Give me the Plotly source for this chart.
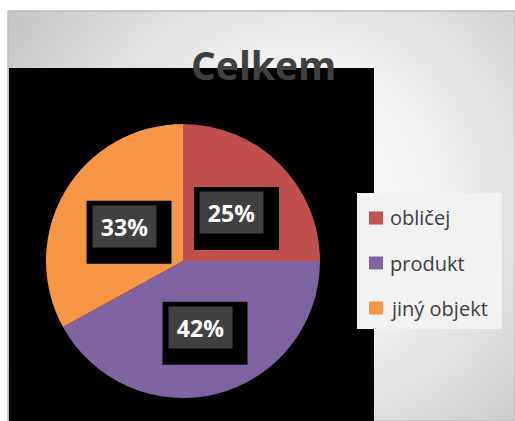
import base64
import math
import plotly.graph_objects as go

# ---- data ----
labels = ["obličej", "produkt", "jiný objekt"]
values = [25, 42, 33]
colors = ["#C0504D", "#8064A2", "#F79646"]
title_text = "Celkem"

W, H = 515, 421

def px_x(x):
    return x / W

def px_y(y):
    return 1 - y / H

# pie geometry (pixels)
cx, cy, R = 183, 261, 137

fig = go.Figure(go.Pie(
    labels=labels,
    values=values,
    marker=dict(colors=colors, line=dict(width=0)),
    sort=False,
    direction="clockwise",
    rotation=0,
    textinfo="none",
    hoverinfo="label+percent",
    showlegend=False,
    domain=dict(x=[px_x(cx - R), px_x(cx + R)], y=[px_y(cy + R), px_y(cy - R)]),
))

# background gradient as an SVG image
svg = f'''<svg xmlns="http://www.w3.org/2000/svg" width="{W}" height="{H}" viewBox="0 0 {W} {H}">
<defs><radialGradient id="g" gradientUnits="userSpaceOnUse" cx="300" cy="200" r="350">
<stop offset="0" stop-color="#ffffff"/><stop offset="0.4" stop-color="#f2f2f2"/><stop offset="1" stop-color="#c4c4c4"/>
</radialGradient></defs>
<rect x="8" y="11" width="{W-8}" height="{H-11}" fill="url(#g)" stroke="#bdbdbd" stroke-width="1.5"/>
</svg>'''
src = "data:image/svg+xml;base64," + base64.b64encode(svg.encode()).decode()

shapes = []
annotations = []

# black plot area
shapes.append(dict(type="rect", xref="paper", yref="paper", layer="below",
                   x0=px_x(9), x1=px_x(374), y0=px_y(421), y1=px_y(68),
                   fillcolor="black", line=dict(width=0)))

# data labels
total = sum(values)
cum = 0
bw, bh = 63, 41
for v in values:
    mid = (cum + v / 2) / total * 2 * math.pi
    cum += v
    lx = cx + 0.5 * R * math.sin(mid)
    ly = cy - 0.5 * R * math.cos(mid)
    shapes.append(dict(type="rect", xref="paper", yref="paper",
                       x0=px_x(lx - bw / 2 - 6), x1=px_x(lx + bw / 2 + 16),
                       y0=px_y(ly + bh / 2 + 17), y1=px_y(ly - bh / 2 - 5),
                       fillcolor="black", line=dict(width=0)))
    annotations.append(dict(
        x=px_x(lx), y=px_y(ly), xref="paper", yref="paper",
        xanchor="center", yanchor="middle", showarrow=False,
        text=f"<b>{round(v / total * 100)}%</b>",
        font=dict(family="Open Sans", size=23, color="white"),
        bgcolor="#404040", width=bw, height=bh, borderpad=0,
    ))

# legend (manual)
shapes.append(dict(type="rect", xref="paper", yref="paper",
                   x0=px_x(357), x1=px_x(502), y0=px_y(329), y1=px_y(193),
                   fillcolor="#f2f2f2", line=dict(width=0)))
for i, (lab, col) in enumerate(zip(labels, colors)):
    ry = 218 + 45 * i
    shapes.append(dict(type="rect", xref="paper", yref="paper",
                       x0=px_x(369), x1=px_x(383), y0=px_y(ry + 6.5), y1=px_y(ry - 6.5),
                       fillcolor=col, line=dict(width=0)))
    annotations.append(dict(
        x=px_x(388), y=px_y(ry), xref="paper", yref="paper",
        xanchor="left", yanchor="middle", showarrow=False, text=lab,
        font=dict(family="Open Sans", size=20, color="#404040"),
    ))

# title
annotations.append(dict(
    x=px_x(263), y=px_y(64), xref="paper", yref="paper",
    xanchor="center", yanchor="middle", showarrow=False,
    text=f"<b>{title_text}</b>",
    font=dict(family="Open Sans", size=39, color="#404040"),
))

fig.update_layout(
    width=W, height=H,
    margin=dict(l=0, r=0, t=0, b=0),
    paper_bgcolor="white",
    plot_bgcolor="white",
    images=[dict(source=src, xref="paper", yref="paper", x=0, y=1,
                 sizex=1, sizey=1, sizing="stretch", layer="below",
                 xanchor="left", yanchor="top")],
    shapes=shapes,
    annotations=annotations,
)

fig.write_html("out.html")
